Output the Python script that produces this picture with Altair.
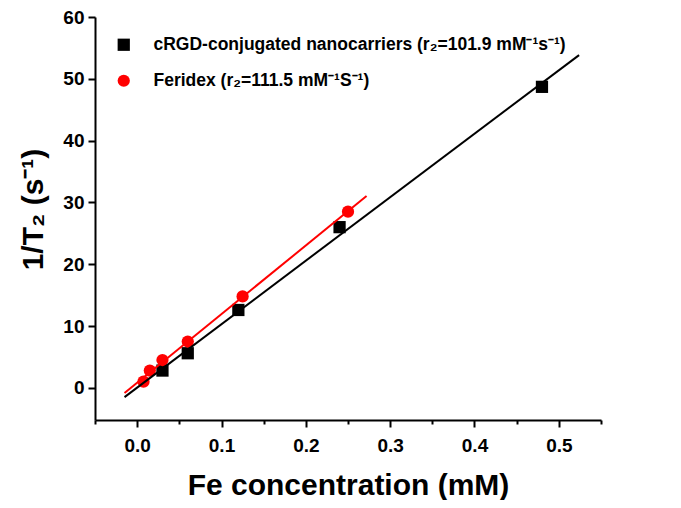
import altair as alt
import pandas as pd

# data
crgd_x = [0.03, 0.06, 0.12, 0.24, 0.48]
crgd_y = [2.8, 5.6, 12.6, 26.0, 48.7]
ferid_x = [0.0075, 0.015, 0.03, 0.06, 0.125, 0.25]
ferid_y = [1.0, 2.8, 4.5, 7.5, 14.8, 28.5]

lab_crgd = "cRGD-conjugated nanocarriers (r\u2082=101.9 mM\u207b\u00b9s\u207b\u00b9)"
lab_ferid = "Feridex (r\u2082=111.5 mM\u207b\u00b9S\u207b\u00b9)"
series = [lab_crgd, lab_ferid]
colors = ["#000000", "#ff0000"]
shapes = ["square", "circle"]

crgd_extent = [-0.015, 0.524]
ferid_extent = [-0.015, 0.272]

x_ticks = [-0.05, 0.0, 0.05, 0.1, 0.15, 0.2, 0.25, 0.3, 0.35, 0.4, 0.45, 0.5, 0.55]
y_ticks = [0, 5, 10, 15, 20, 25, 30, 35, 40, 45, 50, 55, 60]

df = pd.DataFrame(
    {
        "x": crgd_x + ferid_x,
        "y": crgd_y + ferid_y,
        "series": [lab_crgd] * len(crgd_x) + [lab_ferid] * len(ferid_x),
    }
)

FONT = "Liberation Sans, Arial, sans-serif"

xs = alt.Scale(domain=[-0.05, 0.55], nice=False, zero=False)
ys = alt.Scale(domain=[-5.2, 60], nice=False, zero=False)

x_major_test = "abs(datum.value*10 - round(datum.value*10)) < 0.001"
y_major_test = "datum.value % 10 == 0"

leg = alt.Legend(
    title=None,
    orient="none",
    legendX=20,
    legendY=19,
    labelFontSize=17.5,
    labelFont=FONT,
    labelFontWeight="bold",
    labelColor="black",
    symbolSize=150,
    symbolStrokeWidth=0,
    rowPadding=17,
    labelOffset=21,
    labelLimit=600,
)

base = alt.Chart(df)

line_c = (
    base.transform_filter(alt.datum.series == lab_crgd)
    .transform_regression("x", "y", extent=crgd_extent)
    .mark_line(color="black", strokeWidth=2)
    .encode(x=alt.X("x:Q", scale=xs), y=alt.Y("y:Q", scale=ys))
)
line_f = (
    base.transform_filter(alt.datum.series == lab_ferid)
    .transform_regression("x", "y", extent=ferid_extent)
    .mark_line(color="red", strokeWidth=2)
    .encode(x=alt.X("x:Q", scale=xs), y=alt.Y("y:Q", scale=ys))
)

pts = base.mark_point(filled=True, size=150, opacity=1).encode(
    x=alt.X(
        "x:Q",
        scale=xs,
        axis=alt.Axis(
            values=x_ticks,
            labelExpr=f"{x_major_test} ? format(datum.value, '.1f') : ''",
            tickSize={"condition": {"test": x_major_test, "value": 7}, "value": 4},
            title="Fe concentration (mM)",
            titlePadding=15,
            labelPadding=9,
        ),
    ),
    y=alt.Y(
        "y:Q",
        scale=ys,
        axis=alt.Axis(
            values=y_ticks,
            labelExpr=f"{y_major_test} ? format(datum.value, 'd') : ''",
            tickSize={"condition": {"test": y_major_test, "value": 7}, "value": 4},
            title="1/T\u2082 (s\u207b\u00b9)",
            titlePadding=14,
            titleY=192,
            labelPadding=4,
        ),
    ),
    color=alt.Color(
        "series:N", scale=alt.Scale(domain=series, range=colors), legend=leg
    ),
    shape=alt.Shape(
        "series:N", scale=alt.Scale(domain=series, range=shapes), legend=leg
    ),
)

chart = (
    alt.layer(pts, line_f, line_c)
    .properties(
        width=506,
        height=403,
        autosize=alt.AutoSizeParams(type="none"),
        padding={"left": 87, "top": 9, "right": 72, "bottom": 80},
    )
    .configure_view(stroke=None)
    .configure_axis(
        grid=False,
        domainColor="black",
        domainWidth=2,
        tickColor="black",
        tickWidth=2,
        labelFont=FONT,
        labelFontSize=19,
        labelFontWeight="bold",
        labelColor="black",
        titleFont=FONT,
        titleFontSize=30,
        titleFontWeight="bold",
        titleColor="black",
    )
)

chart.save("out.html", embed_options={"renderer": "svg", "actions": False})
